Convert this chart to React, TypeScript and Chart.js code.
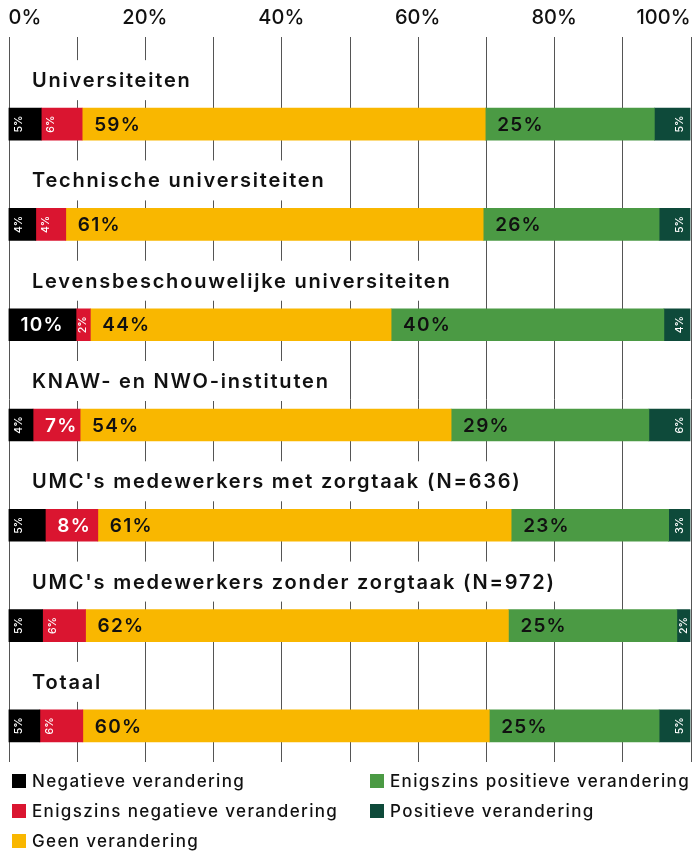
import React, { useEffect, useRef } from 'react';
import { Chart, registerables } from 'chart.js';

Chart.register(...registerables);

const categories = [
  'Universiteiten',
  'Technische universiteiten',
  'Levensbeschouwelijke universiteiten',
  'KNAW- en NWO-instituten',
  "UMC's medewerkers met zorgtaak (N=636)",
  "UMC's medewerkers zonder zorgtaak (N=972)",
  'Totaal',
];
const seriesNames = [
  'Negatieve verandering',
  'Enigszins negatieve verandering',
  'Geen verandering',
  'Enigszins positieve verandering',
  'Positieve verandering',
];
const negatief = [4.8, 4.0, 9.9, 3.6, 5.4, 5.0, 4.6];
const enigszinsNegatief = [6.0, 4.4, 2.1, 6.9, 7.7, 6.3, 6.3];
const geen = [59.1, 61.2, 44.1, 54.4, 60.6, 62.0, 59.6];
const enigszinsPositief = [24.8, 25.8, 40.0, 29.0, 23.1, 24.7, 24.9];
const positief = [5.3, 4.6, 3.9, 6.1, 3.2, 2.0, 4.6];
const tickValues = [0, 10, 20, 30, 40, 50, 60, 70, 80, 90, 100];
const labeledTicks = [0, 20, 40, 60, 80, 100];

const seriesValues = [negatief, enigszinsNegatief, geen, enigszinsPositief, positief];
const seriesColors = ['#000000', '#da1530', '#f9b700', '#4b9a44', '#0e4a3a'];
const labelColors = ['#ffffff', '#ffffff', '#111111', '#111111', '#ffffff'];

const FONT = 'Inter';

const decorPlugin = {
  id: 'decor',
  beforeDatasetsDraw(chart: any) {
    const { ctx, scales } = chart;
    const xs = scales.x;
    const ys = scales.y;
    ctx.save();
    ctx.strokeStyle = '#555555';
    ctx.lineWidth = 1;
    tickValues.forEach((v) => {
      const px = Math.round(xs.getPixelForValue(v)) + 0.5;
      ctx.beginPath();
      ctx.moveTo(px, 37);
      ctx.lineTo(px, 762);
      ctx.stroke();
    });
    ctx.font = `600 20px ${FONT}`;
    ctx.letterSpacing = '1.8px';
    ctx.textBaseline = 'middle';
    ctx.textAlign = 'left';
    categories.forEach((c, i) => {
      const cy = ys.getPixelForValue(i) - 44;
      const w = ctx.measureText(c).width;
      ctx.fillStyle = '#ffffff';
      ctx.fillRect(22, cy - 20, w + 22, 40);
      ctx.fillStyle = '#111111';
      ctx.fillText(c, 32, cy + 1);
    });
    ctx.restore();
  },
  afterDatasetsDraw(chart: any) {
    const { ctx } = chart;
    ctx.save();
    chart.data.datasets.forEach((ds: any, di: number) => {
      const meta = chart.getDatasetMeta(di);
      meta.data.forEach((el: any, i: number) => {
        const v = Math.round(ds.data[i]);
        const lbl = `${v}%`;
        const p = el.getProps(['x', 'base', 'y'], true);
        const start = Math.min(p.x, p.base);
        const end = Math.max(p.x, p.base);
        const half = (end - start) / 2;
        ctx.fillStyle = labelColors[di];
        if (v >= 7) {
          ctx.font = `600 19px ${FONT}`;
          ctx.letterSpacing = '1.2px';
          ctx.textAlign = 'left';
          ctx.textBaseline = 'middle';
          ctx.fillText(lbl, start + 12, p.y + 1);
        } else {
          const cx = di === seriesValues.length - 1 ? end - Math.min(10.5, half) : start + Math.min(10, half);
          ctx.save();
          ctx.translate(cx, p.y);
          ctx.rotate(-Math.PI / 2);
          ctx.font = `500 10.5px ${FONT}`;
          ctx.letterSpacing = '0px';
          ctx.textAlign = 'center';
          ctx.textBaseline = 'middle';
          ctx.fillText(lbl, 0, 0);
          ctx.restore();
        }
      });
    });
    ctx.restore();
  },
};

function Legend() {
  const item = (i: number, left: number, top: number) => (
    <div
      key={i}
      style={{
        position: 'absolute',
        left,
        top,
        display: 'flex',
        alignItems: 'center',
        height: 24,
        whiteSpace: 'nowrap',
      }}
    >
      <span style={{ width: 14, height: 14, background: seriesColors[i], display: 'inline-block', marginRight: 6 }} />
      <span style={{ font: `500 17px ${FONT}`, letterSpacing: '1.35px', color: '#111' }}>{seriesNames[i]}</span>
    </div>
  );
  return (
    <>
      {item(0, 12, 769)}
      {item(1, 12, 799)}
      {item(2, 12, 829)}
      {item(3, 370, 769)}
      {item(4, 370, 799)}
    </>
  );
}

export default function App() {
  const ref = useRef<HTMLCanvasElement>(null);
  useEffect(() => {
    if (!ref.current) return;
    const chart = new Chart(ref.current, {
      type: 'bar',
      data: {
        labels: categories,
        datasets: seriesValues.map((vals, i) => ({
          label: seriesNames[i],
          data: vals,
          backgroundColor: seriesColors[i],
          borderWidth: 0,
          barThickness: 32,
        })),
      },
      options: {
        indexAxis: 'y',
        responsive: false,
        animation: false,
        layout: { padding: { left: 8.5, right: 4.5, top: 0, bottom: 78 } },
        plugins: { legend: { display: false }, tooltip: { enabled: false } },
        scales: {
          x: {
            stacked: true,
            position: 'top',
            min: 0,
            max: 100,
            border: { display: false },
            grid: { display: false, drawTicks: false },
            afterFit: (s: any) => {
              s.height = 74;
              s.paddingLeft = 0;
              s.paddingRight = 0;
            },
            ticks: {
              stepSize: 10,
              autoSkip: false,
              maxRotation: 0,
              align: 'inner',
              padding: 44,
              color: '#111',
              font: { family: FONT, size: 20, weight: '500' },
              callback: (v: any) => (labeledTicks.includes(Number(v)) ? `${v}%` : ''),
            },
          },
          y: {
            stacked: true,
            display: false,
            offset: true,
          },
        },
      },
      plugins: [decorPlugin],
    });
    return () => chart.destroy();
  }, []);
  return (
    <div style={{ position: 'absolute', left: 0, top: 0, width: 695, height: 854, background: '#fff' }}>
      <canvas ref={ref} width={695} height={854} style={{ display: 'block', width: 695, height: 854 }} />
      <Legend />
    </div>
  );
}
